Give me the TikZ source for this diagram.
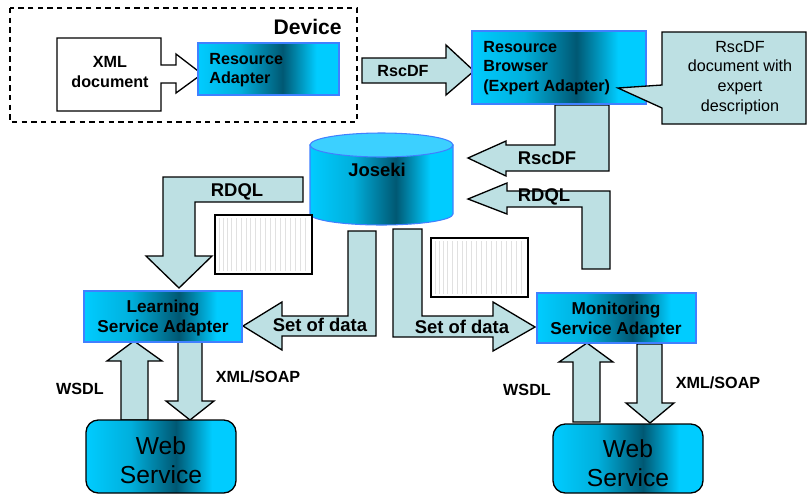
\documentclass[tikz,border=0pt]{standalone}
\usepackage{fontspec}
\setmainfont{Liberation Sans}
\usepackage{tikz}

\definecolor{arrowfill}{RGB}{189,224,227}
\definecolor{cyanbox}{RGB}{0,204,255}
\definecolor{tealdark}{RGB}{0,88,115}
\definecolor{boxline}{RGB}{64,128,255}
\definecolor{dbtop}{RGB}{60,208,255}
\definecolor{tablegrid}{RGB}{225,225,225}

\pgfdeclarehorizontalshading{boxshade}{100bp}{color(0bp)=(cyanbox); color(25bp)=(cyanbox); color(40bp)=(cyanbox!75!tealdark); color(55bp)=(tealdark); color(67bp)=(cyanbox); color(100bp)=(cyanbox)}

\tikzset{
  fatarrow/.style={draw=black, fill=arrowfill, line width=0.75pt, line join=miter},
  adapter/.style={draw=boxline, line width=0.6pt, shading=boxshade, shade},
  service/.style={draw=black, line width=0.75pt, rounded corners=7pt, shading=boxshade, shade},
  tableshot/.style={draw=black, fill=white, line width=0.75pt},
  lbl/.style={inner sep=0pt, font=\bfseries\fontsize{9.2}{11.2}\selectfont},
  biglbl/.style={inner sep=0pt, font=\bfseries\fontsize{10.5}{12}\selectfont},
  note/.style={inner sep=0pt, align=center, font=\fontsize{9.2}{11.3}\selectfont},
  websvc/.style={inner sep=0pt, align=center, font=\fontsize{14}{16.4}\selectfont}
}

\begin{document}
\begin{tikzpicture}[x=0.02cm, y=-0.02cm]
\useasboundingbox (0,0) rectangle (809,495);
% device
\draw [dash pattern=on 3pt off 2.5pt, line width=0.7pt] (10,8) rectangle (357,122);
\node [anchor=east, inner sep=0pt, font=\bfseries\fontsize{12}{14}\selectfont] (device) at (342,27) {Device};
\draw [fill=white, line width=0.75pt, line join=miter] (57,38) -- (161,38) -- (161,65) -- (176,65) -- (176,54) -- (202,74) -- (176,93) -- (176,83) -- (161,83) -- (161,111) -- (57,111) -- cycle;
\node [lbl, align=center] (xmldoc) at (110,72) {XML\\document};
\draw [adapter] (198,43) rectangle (339,95);
\node [lbl, align=left, anchor=west] (radapter) at (209,70) {Resource\\Adapter};
% rscdf to browser
\draw [fatarrow] (362,58) -- (446,58) -- (446,45) -- (474,71) -- (446,95) -- (446,83) -- (362,83) -- cycle;
\node [lbl] (rscdftop) at (403,71) {RscDF};
% browser and note
\draw [fatarrow] (555,105) -- (609,105) -- (609,171) -- (506,171) -- (506,176) -- (468,158) -- (506,141) -- (506,145) -- (555,145) -- cycle;
\node [biglbl] (rscdfin) at (547,158) {RscDF};
\draw [adapter] (472,31) rectangle (646,104);
\node [lbl, align=left, anchor=west] (browser) at (483,68) {Resource\\Browser\\(Expert Adapter)};
\draw [fatarrow] (662,32) -- (806,32) -- (806,124) -- (662,124) -- (662,108) -- (618,88) -- (662,85) -- cycle;
\node [note] (expertnote) at (740,78) {RscDF\\document with\\expert\\description};
% rdql from monitoring
\draw [fatarrow] (610,269) -- (582,269) -- (582,207) -- (507,207) -- (507,214) -- (468,199) -- (507,183) -- (507,191) -- (610,191) -- cycle;
\node [biglbl] (rdqlin) at (544,197) {RDQL};
% joseki
\draw [adapter] (310,145) -- (310,214) .. controls (310,220) and (342,225) .. (381.5,225) .. controls (421,225) and (453,220) .. (453,214) -- (453,145) -- cycle;
\filldraw [fill=dbtop, draw=boxline, line width=0.6pt] (381.5,145) ellipse [x radius=71.5, y radius=12];
\node [biglbl] (joseki) at (377,170) {Joseki};
% rdql to learning
\draw [fatarrow] (303,177) -- (303,202) -- (195,202) -- (195,256) -- (212,256) -- (179,288) -- (146,256) -- (163,256) -- (163,177) -- cycle;
\node [biglbl] (rdqlout) at (237,192) {RDQL};
% result tables
\draw [tableshot] (215,215) rectangle (312,274);
\foreach \dx in {4,8,12,16,21,26,31,35,40,45,50,55,60,65,70,75,80,85,90}
  \draw [tablegrid, line width=0.3pt] ({215+\dx},218) -- ({215+\dx},271);
\draw [tableshot] (431,238) rectangle (528,297);
\foreach \dx in {4,8,12,16,21,26,31,35,40,45,50,55,60,65,70,75,80,85,90}
  \draw [tablegrid, line width=0.3pt] ({431+\dx},241) -- ({431+\dx},294);
% set of data
\draw [fatarrow] (348,231) -- (376,231) -- (376,336) -- (282,336) -- (282,350) -- (243,326) -- (282,302) -- (282,316) -- (348,316) -- cycle;
\node [biglbl] (setleft) at (320,325) {Set of data};
\draw [fatarrow] (393,229) -- (422,229) -- (422,316) -- (493,316) -- (493,302) -- (535,327) -- (493,351) -- (493,337) -- (393,337) -- cycle;
\node [biglbl] (setright) at (462,327) {Set of data};
% learning side
\draw [fatarrow] (121,420) -- (121,361) -- (107,361) -- (134,341) -- (162,361) -- (148,361) -- (148,420) -- cycle;
\draw [fatarrow] (178,340) -- (202,340) -- (202,401) -- (214,401) -- (190,420) -- (166,401) -- (178,401) -- cycle;
\draw [adapter] (84,291) rectangle (242,342);
\node [lbl, align=center, font=\bfseries\fontsize{9.8}{11.9}\selectfont] (learning) at (163,318) {Learning\\Service Adapter};
\node [lbl] (wsdlleft) at (80,389) {WSDL};
\node [lbl] (soapleft) at (258,377) {XML/SOAP};
\draw [service] (86,420) rectangle (236,493);
\node [websvc] (webleft) at (161,460) {Web\\Service};
% monitoring side
\draw [fatarrow] (573,422) -- (573,362) -- (559,362) -- (587,343) -- (613,362) -- (600,362) -- (600,422) -- cycle;
\draw [fatarrow] (637,344) -- (662,344) -- (662,403) -- (674,403) -- (650,423) -- (626,403) -- (637,403) -- cycle;
\draw [adapter] (537,293) rectangle (696,343);
\node [lbl, align=center, font=\bfseries\fontsize{9.8}{11.9}\selectfont] (monitoring) at (616,320) {Monitoring\\Service Adapter};
\node [lbl] (wsdlright) at (527,390) {WSDL};
\node [lbl] (soapright) at (718,383) {XML/SOAP};
\draw [service] (553,424) rectangle (703,493);
\node [websvc] (webright) at (628,463) {Web\\Service};
\end{tikzpicture}
\end{document}
